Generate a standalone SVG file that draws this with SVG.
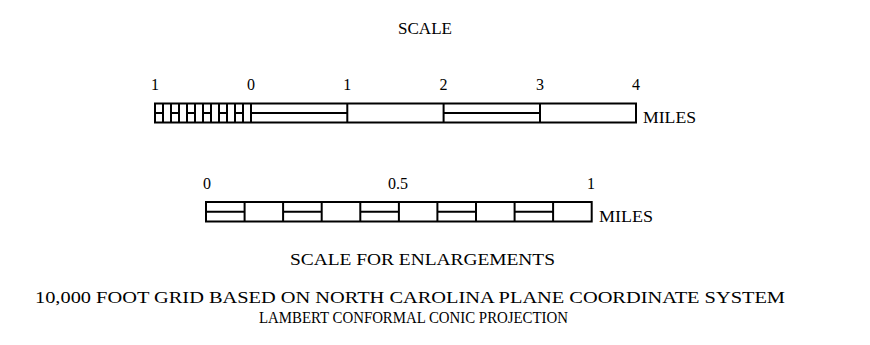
<svg xmlns="http://www.w3.org/2000/svg" width="870" height="345" viewBox="0 0 870 345">
<style>
text{font-family:"Liberation Serif","DejaVu Serif",serif;font-size:16px;fill:#000}
.c{text-anchor:middle}
.bar{fill:#fff;stroke:#000;stroke-width:2}
.ln{stroke:#000;stroke-width:2;fill:none}
</style>
<rect width="870" height="345" fill="#fff"/>
<g id="title"><text class="c" x="425" y="34" textLength="54" lengthAdjust="spacingAndGlyphs">SCALE</text></g>
<g id="scale-miles">
<rect class="bar" x="155" y="103.5" width="481" height="19"/>
<path class="ln" d="M251 103.5V122.5M347.3 103.5V122.5M443.6 103.5V122.5M540 103.5V122.5M251 113H347.3M443.6 113H540"/>
<path class="ln" d="M163 103.5V122.5M171 103.5V122.5M179 103.5V122.5M187 103.5V122.5M195 103.5V122.5M203 103.5V122.5M211 103.5V122.5M219 103.5V122.5M227 103.5V122.5M235 103.5V122.5M243 103.5V122.5M155 113H163M171 113H179M187 113H195M203 113H211M219 113H227M235 113H243"/>
<text class="c" x="155" y="90">1</text>
<text class="c" x="251" y="90">0</text>
<text class="c" x="347.3" y="90">1</text>
<text class="c" x="443.6" y="90">2</text>
<text class="c" x="540" y="90">3</text>
<text class="c" x="636" y="90">4</text>
<text x="643" y="123" textLength="53" lengthAdjust="spacingAndGlyphs">MILES</text>
</g>
<g id="scale-enlargements">
<rect class="bar" x="206" y="202" width="385.7" height="19.5"/>
<path class="ln" d="M244.6 202V221.5M283.1 202V221.5M321.7 202V221.5M360.3 202V221.5M398.9 202V221.5M437.4 202V221.5M476 202V221.5M514.6 202V221.5M553.1 202V221.5M206 211.7H244.6M283.1 211.7H321.7M360.3 211.7H398.9M437.4 211.7H476M514.6 211.7H553.1"/>
<text class="c" x="207" y="189">0</text>
<text class="c" x="398" y="189">0.5</text>
<text class="c" x="591" y="189">1</text>
<text x="599" y="222" textLength="54" lengthAdjust="spacingAndGlyphs">MILES</text>
<text class="c" x="422.5" y="265" textLength="265" lengthAdjust="spacingAndGlyphs">SCALE FOR ENLARGEMENTS</text>
</g>
<g id="caption">
<text class="c" x="410" y="303" textLength="750" lengthAdjust="spacingAndGlyphs">10,000 FOOT GRID BASED ON NORTH CAROLINA PLANE COORDINATE SYSTEM</text>
<text class="c" x="413.5" y="323" textLength="309" lengthAdjust="spacingAndGlyphs">LAMBERT CONFORMAL CONIC PROJECTION</text>
</g>
</svg>
